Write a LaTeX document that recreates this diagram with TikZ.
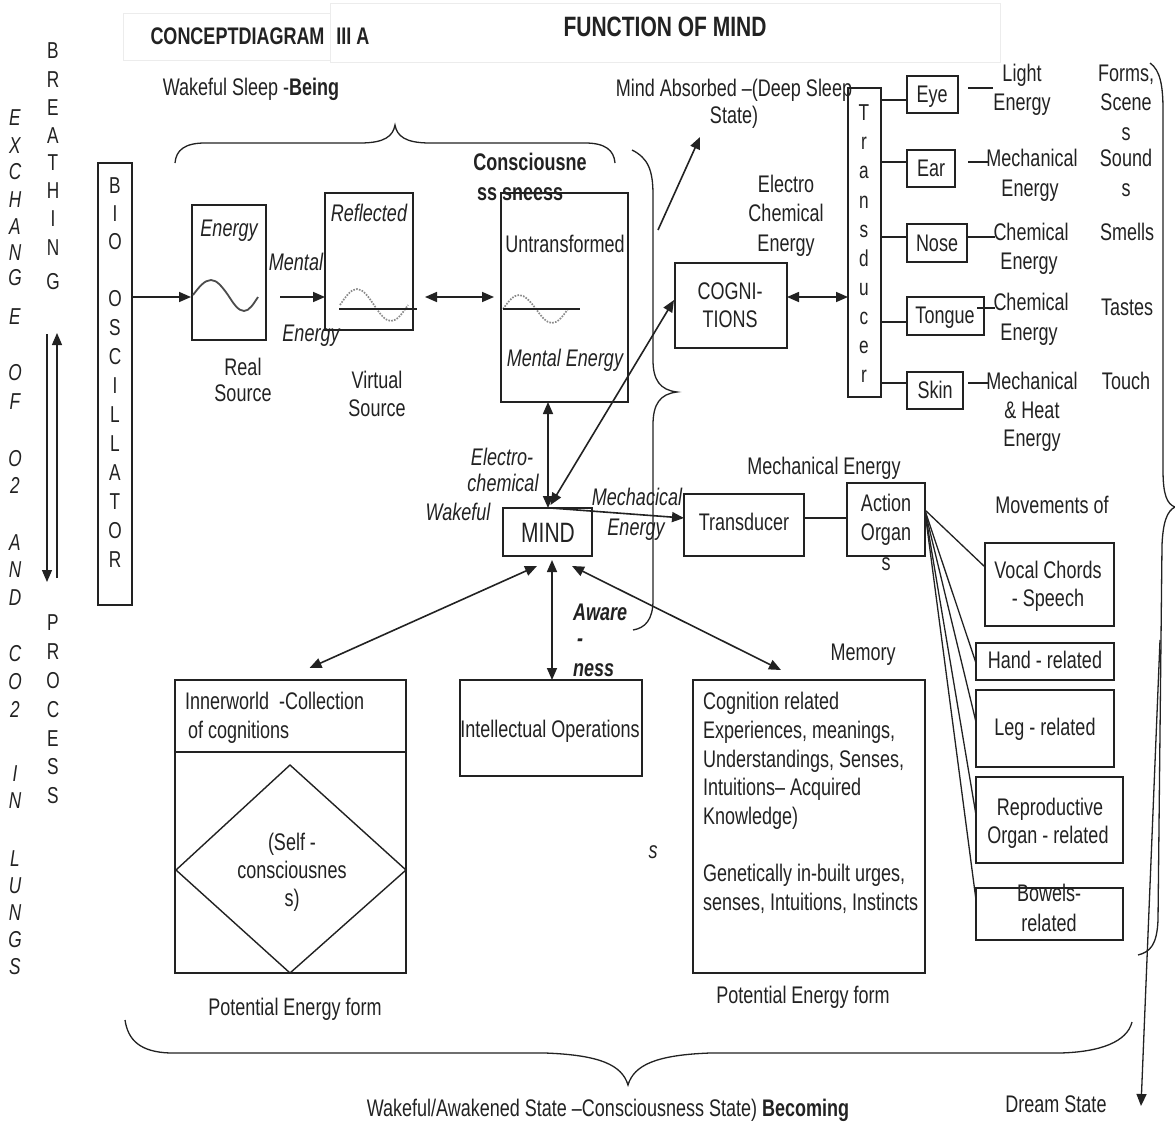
\documentclass[tikz,border=0pt]{standalone}
\usepackage{fontspec}
\setmainfont{Liberation Sans}[FakeStretch=0.75]
\usetikzlibrary{arrows.meta,calc}
\definecolor{ink}{HTML}{222222}
\definecolor{wavegray}{HTML}{8A8A8A}
\newcommand\mkbox[5]{\node[box, minimum width={#4-#2}, minimum height={#5-#3}] (#1) at (#2,#3) {};}
\begin{document}
\begin{tikzpicture}[x=1pt,y=-1pt,
  every node/.style={inner sep=0pt, outer sep=0pt, text=ink},
  txt/.style={anchor=base, yshift=-1.5pt, font=\fontsize{24}{29}\selectfont},
  itx/.style={anchor=base, yshift=-1.5pt, font=\fontsize{24}{29}\selectfont\itshape},
  btx/.style={anchor=base, yshift=-1.5pt, font=\fontsize{24}{29}\selectfont\bfseries},
  bitx/.style={anchor=base west, yshift=-1.5pt, font=\fontsize{24}{29}\selectfont\bfseries\itshape},
  ltx/.style={anchor=base west, yshift=-1.5pt, font=\fontsize{24}{29}\selectfont},
  letter/.style={anchor=base, font=\fontsize{23}{25}\selectfont},
  iletter/.style={anchor=base, font=\itshape\fontsize{23}{25}\selectfont},
  box/.style={draw=ink, line width=1.4pt, anchor=north west},
  con/.style={draw=ink, line width=1.6pt},
  arr/.style={con, -{Triangle[length=12pt,width=10pt]}},
  darr/.style={con, {Triangle[length=12pt,width=10pt]}-{Triangle[length=12pt,width=10pt]}},
  brace/.style={draw=ink, line width=1.3pt},
  wave/.style={draw=wavegray, line width=1.7pt, dash pattern=on 1.6pt off 1.3pt},
]
\useasboundingbox[fill=white] (0,0) rectangle (1175,1132);

% ---------- header ----------
\draw[gray!15, line width=0.8pt] (123,13) rectangle (330,60);
\draw[gray!15, line width=0.8pt] (330,3) rectangle (1000,62);
\node[btx] (title1) at (260,43) {CONCEPTDIAGRAM\hspace{12pt}III A};
\node[anchor=base, font=\fontsize{28}{32}\selectfont\bfseries] (title2) at (665,37) {FUNCTION OF MIND};
\node[txt] (being) at (251,94) {Wakeful Sleep -\textbf{Being}};

% top brace
\draw[brace] (175,163) .. controls (176,150) and (185,143) .. (205,143) -- (360,143)
  .. controls (385,143) and (393,136) .. (395,125) .. controls (397,136) and (405,143) .. (430,143)
  -- (585,143) .. controls (605,143) and (614,150) .. (615,163);

% ---------- left columns ----------
\foreach \c/\y [count=\i] in {E/117,X/145,C/171,H/199,A/226,N/252,G/277,E/316,O/372,F/401,O/458,2/485,A/542,N/569,D/597,C/653,O/681,2/709,I/773,N/800,L/858,U/885,N/912,G/939,S/966}
  \node[iletter] (ex\i) at (15,\y+8) {\c};
\foreach \c/\y [count=\i] in {B/51,R/79,E/107,A/135,T/162,H/190,I/218,N/247,G/281}
  \node[letter] (br\i) at (53,\y+8) {\c};
\foreach \c/\y [count=\i] in {P/622,R/651,O/680,C/709,E/738,S/766,S/795}
  \node[letter] (pr\i) at (53,\y+8) {\c};
\coordinate (dnA) at (47,334);
\coordinate (dnB) at (47,582);
\coordinate (upA) at (57,578);
\coordinate (upB) at (57,333);
\draw[arr, line width=1.3pt] (dnA) -- (dnB);
\draw[arr, line width=1.3pt] (upA) -- (upB);

% bio oscillator
\mkbox{bio}{98}{163}{132}{605}
\foreach \c/\y [count=\i] in {B/185,I/213,O/241,O/298,S/327,C/356,I/385,L/414,L/443,A/472,T/501,O/530,R/559}
  \node[letter] (bl\i) at (115,\y+8) {\c};

% ---------- energy sources ----------
\mkbox{energy}{192}{205}{266}{340}
\node[itx] (energyT) at (229,235) {Energy};
\draw[gray!60!black, line width=1.8pt] (193,295) sin (211,280) cos (228,295) sin (244,311) cos (258,297);
\node[txt] (real1) at (243,374) {Real};
\node[txt] (real2) at (243,400) {Source};
\draw[arr] ($(bio.east)+(0,-87)$) -- ($(energy.west)+(-1,24.5)$);

\node[itx] (mental1) at (296,269) {Mental};
\node[itx] (mental2) at (311,340) {Energy};

\mkbox{refl}{325}{193}{413}{330}
\node[itx] (reflT) at (369,220) {Reflected};
\draw[wave] (340,305) sin (357,289) cos (374,305) sin (391,321) cos (408,305);
\draw[con, line width=1.4pt] (339,309) -- (417,309);
\draw[arr] ($(refl.west)+(-45,35.5)$) -- ($(refl.west)+(0,35.5)$);
\node[txt] (virt1) at (377,387) {Virtual};
\node[txt] (virt2) at (377,415) {Source};

\mkbox{unt}{501}{193}{628}{402}
\node[txt] (untT) at (565,251) {Untransformed};
\node[itx] (untE) at (565,365) {Mental Energy};
\draw[wave] (503,309) sin (519,295) cos (536,309) sin (552,323) cos (568,309);
\draw[con, line width=1.4pt] (503,309) -- (580,309);
\draw[darr] ($(refl.east)+(12,35.5)$) -- ($(unt.west)+(-7,-0.5)$);
\node[btx] (consc1) at (530,169) {Consciousne};
\node[anchor=base west, font=\fontsize{24}{29}\selectfont\bfseries] (consc2) at (477,200) {ss sneess};

% middle brace
\draw[brace] (632,150) .. controls (648,158) and (653,170) .. (653,195) -- (653,360)
  .. controls (653,380) and (660,390) .. (677,392) .. controls (660,394) and (653,404) .. (653,425)
  -- (653,600) .. controls (653,620) and (645,628) .. (633,630);

% ---------- mind ----------
\mkbox{mind}{503}{508}{592}{556}
\node[anchor=base, font=\fontsize{28}{32}\selectfont] (mindT) at (548,542) {MIND};
\draw[darr] ($(unt.south)+(-16.5,0)$) -- ($(mind.north)+(0.5,0)$);
\node[itx] (ec1) at (502,464) {Electro-};
\node[itx] (ec2) at (503,490) {chemical};
\node[itx] (wakef) at (458,519) {Wakeful};
\node[itx] (mech1) at (637,504) {Mechacical};
\node[itx] (mech2) at (636,534) {Energy};

% deep sleep
\node[txt] (abs1) at (734,95) {Mind Absorbed --(Deep Sleep};
\node[txt] (abs2) at (734,122) {State)};
\coordinate (ds1) at (658,230);
\coordinate (ds2) at (700,137);
\draw[arr] (ds1) -- (ds2);

% cognitions
\mkbox{cogn}{675}{263}{787}{348}
\node[txt] (cogT1) at (730,298) {COGNI-};
\node[txt] (cogT2) at (730,326) {TIONS};
\node[txt] (ece1) at (786,191) {Electro};
\node[txt] (ece2) at (786,220) {Chemical};
\node[txt] (ece3) at (786,250) {Energy};
\draw[darr] ($(mind.north)+(3,-3)$) -- ($(cogn.west)+(-1,-5.5)$);

% sense transducer
\mkbox{trans}{848}{88}{881}{397}
\foreach \c/\y [count=\i] in {T/113,r/142,a/171,n/201,s/230,d/259,u/288,c/317,e/346,r/375}
  \node[letter] (tl\i) at (864,\y+7) {\c};
\draw[darr] ($(cogn.east)+(0,-8.5)$) -- ($(trans.west)+(0,54.5)$);

\mkbox{eye}{907}{76}{958}{113}
\mkbox{ear}{907}{150}{955}{187}
\mkbox{nose}{907}{224}{967}{262}
\mkbox{tongue}{907}{297}{984}{335}
\mkbox{skin}{907}{372}{963}{409}
\node[txt] (eyeT) at (932,101) {Eye};
\node[txt] (earT) at (931,175) {Ear};
\node[txt] (noseT) at (937,250) {Nose};
\node[txt] (tongueT) at (945,322) {Tongue};
\node[txt] (skinT) at (935,397) {Skin};
\draw[con] ($(trans.east)+(0,-142.5)$) -- ($(eye.west)+(0,5.5)$);
\draw[con] ($(trans.east)+(0,-80.5)$) -- ($(ear.west)+(0,-6.5)$);
\draw[con] ($(trans.east)+(0,-5.5)$) -- ($(nose.west)+(0,-6)$);
\draw[con] ($(trans.east)+(0,79.5)$) -- ($(tongue.west)+(0,6)$);
\draw[con] ($(trans.east)+(0,140.5)$) -- ($(skin.west)+(0,-7.5)$);

% energy forms
\node[txt] (le1) at (1022,80) {Light};
\node[txt] (le2) at (1022,109) {Energy};
\node[txt] (me1) at (1032,165) {Mechanical};
\node[txt] (me2) at (1030,195) {Energy};
\node[txt] (ce1) at (1031,239) {Chemical};
\node[txt] (ce2) at (1029,268) {Energy};
\node[txt] (te1) at (1031,309) {Chemical};
\node[txt] (te2) at (1029,339) {Energy};
\node[txt] (he1) at (1032,388) {Mechanical};
\node[txt] (he2) at (1032,417) {\& Heat};
\node[txt] (he3) at (1032,445) {Energy};
\draw[con, line width=1.3pt] ($(eye.east)+(10,-6.5)$) -- ++(25,0);
\draw[con, line width=1.3pt] ($(ear.east)+(13,-6.5)$) -- ++(20,0);
\draw[con, line width=1.3pt] ($(nose.east)+(0,-6)$) -- ++(28,0);
\draw[con, line width=1.3pt] ($(tongue.east)+(-7,-8)$) -- ++(18,0);
\draw[con, line width=1.3pt] ($(skin.east)+(5,-7.5)$) -- ++(20,0);

% perceived forms
\node[txt] (pf1) at (1126,80) {Forms,};
\node[txt] (pf2) at (1126,109) {Scene};
\node[txt] (pf3) at (1126,139) {s};
\node[txt] (pf4) at (1126,165) {Sound};
\node[txt] (pf5) at (1126,195) {s};
\node[txt] (pf6) at (1127,239) {Smells};
\node[txt] (pf7) at (1127,314) {Tastes};
\node[txt] (pf8) at (1126,388) {Touch};

% right brace and dream state
\draw[brace] (1150,63) .. controls (1160,70) and (1163,85) .. (1163,110) -- (1163,470)
  .. controls (1163,495) and (1167,504) .. (1175,507) .. controls (1167,511) and (1163,522) .. (1162,545)
  -- (1158,920) .. controls (1157,945) and (1150,952) .. (1138,955);
\coordinate (dr1) at (1160,640);
\coordinate (dr2) at (1141,1106);
\draw[arr, line width=1.3pt] (dr1) -- (dr2);
\node[txt] (dream) at (1056,1111) {Dream State};

% ---------- motor branch ----------
\mkbox{trans2}{684}{494}{804}{556}
\node[txt] (trans2T) at (744,529) {Transducer};
\draw[arr] ($(mind.north)+(3,0)$) -- ($(trans2.west)+(0,-7)$);
\mkbox{ao}{847}{483}{925}{556}
\node[txt] (ao1) at (886,510) {Action};
\node[txt] (ao2) at (886,539) {Organ};
\node[txt] (ao3) at (886,569) {s};
\draw[con] ($(trans2.east)+(0,-7)$) -- ($(ao.west)+(0,-1.5)$);
\node[txt] (mechE) at (824,473) {Mechanical Energy};
\node[txt] (movof) at (1052,512) {Movements of};

\mkbox{vocal}{985}{543}{1114}{626}
\mkbox{hand}{976}{643}{1114}{680}
\mkbox{leg}{976}{690}{1114}{767}
\mkbox{repro}{976}{777}{1123}{863}
\mkbox{bowels}{976}{888}{1123}{940}
\node[txt] (vo1) at (1048,577) {Vocal Chords};
\node[txt] (vo2) at (1048,605) {- Speech};
\node[txt] (haT) at (1045,667) {Hand - related};
\node[txt] (leT) at (1045,734) {Leg - related};
\node[txt] (re1) at (1050,814) {Reproductive};
\node[txt] (re2) at (1048,842) {Organ - related};
\node[txt] (bo1) at (1049,900) {Bowels-};
\node[txt] (bo2) at (1049,930) {related};
\draw[con, line width=1.3pt] ($(ao.east)+(0,-9.5)$) -- ($(vocal.west)+(0,-17.5)$);
\draw[con, line width=1.3pt] ($(ao.east)+(0,-9)$) -- ($(hand.west)+(0,1.5)$);
\draw[con, line width=1.3pt] ($(ao.east)+(0,-8.5)$) -- ($(leg.west)+(0,-6.5)$);
\draw[con, line width=1.3pt] ($(ao.east)+(0,-8)$) -- ($(repro.west)+(0,-5)$);
\draw[con, line width=1.3pt] ($(ao.east)+(0,-7.5)$) -- ($(bowels.west)+(0,-14)$);

% ---------- lower boxes ----------
\mkbox{inner}{175}{680}{406}{973}
\draw[con, line width=1.4pt] ($(inner.north west)+(0,72)$) -- ($(inner.north east)+(0,72)$);
\draw[con, line width=1.4pt] (290,765) -- (406,870) -- (290,973) -- (176,870) -- cycle;
\node[ltx] (in1) at (185,708) {Innerworld\hspace{5pt} -Collection};
\node[ltx] (in2) at (188,737) {of cognitions};
\node[txt] (self1) at (292,849) {(Self -};
\node[txt] (self2) at (292,877) {consciousnes};
\node[txt] (self3) at (292,905) {s)};
\node[txt] (pe1) at (295,1014) {Potential Energy form};

\mkbox{intel}{460}{680}{642}{776}
\node[txt] (intelT) at (550,736) {Intellectual Operations};
\node[itx] (sx) at (653,857) {s};

\mkbox{mem}{693}{680}{925}{973}
\node[ltx] (m1) at (703,708) {Cognition related};
\node[ltx] (m2) at (703,737) {Experiences, meanings,};
\node[ltx] (m3) at (703,766) {Understandings, Senses,};
\node[ltx] (m4) at (703,794) {Intuitions-- Acquired};
\node[ltx] (m5) at (703,823) {Knowledge)};
\node[ltx] (m6) at (703,880) {Genetically in-built urges,};
\node[ltx] (m7) at (703,909) {senses, Intuitions, Instincts};
\node[txt] (pe2) at (803,1002) {Potential Energy form};
\node[txt] (memT) at (863,659) {Memory};

\draw[darr] ($(mind.south)+(4.5,4)$) -- ($(intel.north)+(1,0)$);
\draw[darr] ($(mind.south)+(-10.5,10)$) -- ($(inner.north)+(19,-12)$);
\draw[darr] ($(mind.south)+(24.5,10)$) -- ($(mem.north)+(-28,-10)$);
\node[bitx] (aw1) at (573,619) {Aware};
\node[anchor=base, font=\fontsize{24}{29}\selectfont\bfseries\itshape] (aw2) at (580,646) {-};
\node[bitx] (aw3) at (573,675) {ness};

% bottom brace
\draw[brace] (125,1020) .. controls (128,1040) and (140,1052) .. (170,1053) -- (545,1053)
  .. controls (600,1055) and (622,1065) .. (628,1085) .. controls (634,1065) and (656,1055) .. (710,1053)
  -- (1060,1053) .. controls (1100,1052) and (1127,1042) .. (1132,1022);
\node[txt] (becoming) at (608,1115) {Wakeful/Awakened State --Consciousness State) \textbf{Becoming}};

\end{tikzpicture}
\end{document}
